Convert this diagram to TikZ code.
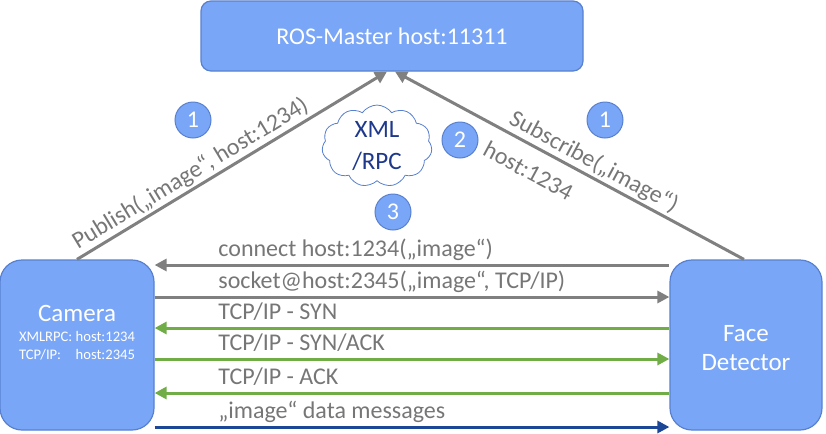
\documentclass[tikz,border=0pt]{standalone}
\usepackage{fontspec}
\setmainfont{Carlito}
\usetikzlibrary{arrows.meta,shapes.symbols}

\definecolor{boxblue}{RGB}{122,166,247}
\definecolor{boxline}{RGB}{88,128,208}
\definecolor{arrgray}{RGB}{128,128,128}
\definecolor{txtgray}{RGB}{118,118,118}
\definecolor{arrgreen}{RGB}{112,173,71}
\definecolor{arrdark}{RGB}{28,70,150}
\definecolor{cloudtxt}{RGB}{30,56,140}

\begin{document}
\begin{tikzpicture}[x=0.5pt,y=-0.5pt,
	box/.style={draw=boxline,line width=0.6pt,fill=boxblue,text=white,align=center,font=\fontsize{12}{14}\selectfont},
	num/.style={circle,draw=boxline,line width=0.5pt,fill=boxblue,text=white,minimum size=18pt,inner sep=0pt,font=\fontsize{12}{14}\selectfont},
	lbl/.style={text=txtgray,font=\fontsize{12}{14}\selectfont,inner sep=1pt},
	msg/.style={line width=1.5pt,-{Triangle[length=6pt,width=6pt]}},
	msgl/.style={line width=1.5pt,{Triangle[length=6pt,width=6pt]}-}]
	\useasboundingbox (0,0) rectangle (826,434);
	\node[box,rounded corners=5pt,minimum width=191pt,minimum height=35pt] (master) at (392,36) {ROS-Master host:11311};
	\node[box,rounded corners=11pt,minimum width=77pt,minimum height=85pt] (cam) at (77,345) {};
	\node[box,rounded corners=11pt,minimum width=76pt,minimum height=85pt] (det) at (746,345) {};
	\node[text=white,align=center,font=\fontsize{12.5}{14.5}\selectfont] (dettxt) at (746,348) {Face\\Detector};
	\node[text=white,align=center,font=\fontsize{12.5}{14}\selectfont] (camtxt) at (77,313) {Camera};
	\node[text=white,font=\fontsize{7.3}{9}\selectfont,anchor=north,inner sep=0pt] (caminfo) at (77,328)
		{\begin{tabular}{@{}l@{\ }l@{}}XMLRPC: & host:1234\\TCP/IP: & host:2345\end{tabular}};
	\draw[arrgray,msg] (cam.north) -- node[lbl,sloped,above,pos=0.39] {Publish(„image“, host:1234)} ([xshift=-2.5pt]master.south);
	\draw[arrgray,msg] ([xshift=-1pt]det.north) -- node[lbl,sloped,above,pos=0.45] {Subscribe(„image“)}
		node[lbl,sloped,below,pos=0.585,yshift=-6pt] {host:1234} ([xshift=1.5pt]master.south);
	\node[cloud,draw=boxline,fill=white,cloud puffs=11,cloud puff arc=110,aspect=1.5,minimum width=54pt,minimum height=36pt,inner sep=0pt,
		text=cloudtxt,align=center,font=\fontsize{12.5}{16}\selectfont] (xmlrpc) at (377,146) {XML\\/RPC};
	\node[num] (n1a) at (193,120) {1};
	\node[num] (n1b) at (605,120) {1};
	\node[num] (n2) at (460,140) {2};
	\node[num] (n3) at (393,212) {3};
	\foreach \y/\s/\c/\t [count=\i] in {
		265/msgl/arrgray/{connect host:1234(„image“)},
		297/msg/arrgray/{socket@host:2345(„image“, TCP/IP)},
		328/msgl/arrgreen/{TCP/IP - SYN},
		359/msg/arrgreen/{TCP/IP - SYN/ACK},
		393/msgl/arrgreen/{TCP/IP - ACK},
		427/msg/arrdark/{„image“ data messages}} {
		\coordinate (m\i) at (0,\y);
		\draw[\c,\s] (cam.east |- m\i) -- (det.west |- m\i);
		\node[lbl,anchor=base west] (t\i) at (216,\y-9) {\t};
	}
\end{tikzpicture}
\end{document}
